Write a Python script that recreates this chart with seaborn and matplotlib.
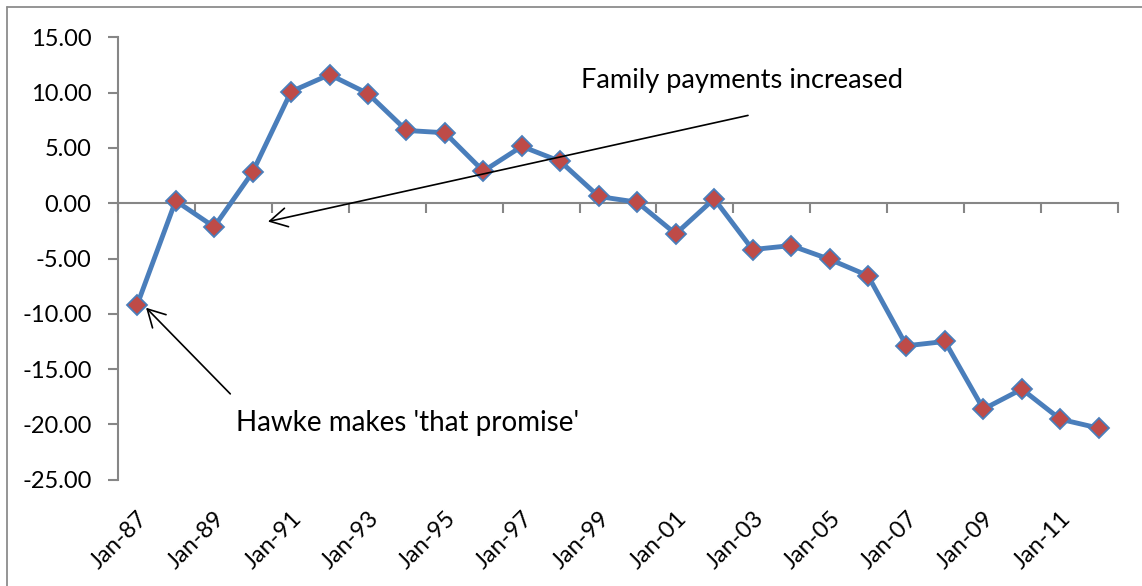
import matplotlib
matplotlib.use("Agg")
import matplotlib.pyplot as plt
from matplotlib.lines import Line2D
import seaborn as sns
import numpy as np
import pandas as pd

# Annual series, January of each year 1987-2012
periods = ["Jan-87", "Jan-88", "Jan-89", "Jan-90", "Jan-91", "Jan-92", "Jan-93",
           "Jan-94", "Jan-95", "Jan-96", "Jan-97", "Jan-98", "Jan-99", "Jan-00",
           "Jan-01", "Jan-02", "Jan-03", "Jan-04", "Jan-05", "Jan-06", "Jan-07",
           "Jan-08", "Jan-09", "Jan-10", "Jan-11", "Jan-12"]
values = [-9.18, 0.22, -2.14, 2.81, 10.09, 11.63, 9.91, 6.58, 6.37, 2.90,
          5.14, 3.78, 0.61, 0.09, -2.77, 0.40, -4.19, -3.83, -5.07, -6.55,
          -12.89, -12.50, -18.62, -16.81, -19.53, -20.34]
y_ticks = [15, 10, 5, 0, -5, -10, -15, -20, -25]

df = pd.DataFrame({"pos": np.arange(len(periods)), "value": values})

sns.set_theme(style="ticks")
plt.rcParams["font.family"] = ["Lato", "DejaVu Sans"]
plt.rcParams["xtick.bottom"] = True
plt.rcParams["ytick.left"] = True

LINE = "#4a7ebb"
MARK = "#be4b48"
AXIS = "#868686"

fig = plt.figure(figsize=(11.42, 5.86), dpi=100)
ax = fig.add_axes([0.1033, 0.1814, 0.979 - 0.1033, 0.9363 - 0.1814])

sns.lineplot(data=df, x="pos", y="value", ax=ax, color=LINE, linewidth=3.5,
             marker="D", markersize=10, markerfacecolor=MARK,
             markeredgecolor=LINE, markeredgewidth=1.3, zorder=3)

ax.set_xlim(-0.5, len(periods) - 0.5)
ax.set_ylim(-25, 15)
ax.set_xlabel("")
ax.set_ylabel("")

# y axis
ax.set_yticks(y_ticks)
ax.set_yticklabels([f"{v:.2f}" for v in y_ticks])
ax.tick_params(axis="y", which="major", left=True, length=7, width=1.5,
               color=AXIS, pad=12, labelsize=17, labelcolor="black",
               direction="out")
for s in ["top", "right"]:
    ax.spines[s].set_visible(False)
ax.spines["left"].set_color(AXIS)
ax.spines["left"].set_linewidth(1.5)

# horizontal axis crosses at zero, tick marks between every second category
ax.spines["bottom"].set_position(("data", 0))
ax.spines["bottom"].set_color(AXIS)
ax.spines["bottom"].set_linewidth(1.5)
ax.set_xticks(np.arange(-0.5, len(periods), 2))
ax.set_xticklabels([])
ax.tick_params(axis="x", which="major", bottom=True, length=7, width=1.5,
               color=AXIS, direction="out")

# category labels every second year along the bottom edge
lab = ax.secondary_xaxis("bottom")
lab.set_xticks(np.arange(0, len(periods), 2))
lab.set_xticklabels(periods[::2], rotation=45, ha="right",
                    rotation_mode="anchor")
lab.tick_params(axis="x", length=0, pad=20, labelsize=17, labelcolor="black")
for s in lab.spines.values():
    s.set_visible(False)

arrow = dict(arrowstyle="->,head_length=0.62,head_width=0.34",
             color="black", lw=1.2, mutation_scale=20, shrinkA=0, shrinkB=0)

ax.annotate("", xy=(3.40, -1.66), xytext=(15.88, 7.94), arrowprops=arrow,
            zorder=4)
ax.text(15.73, 11.11, "Family payments increased", ha="center",
        va="center", fontsize=19.6, color="black")

ax.annotate("", xy=(0.23, -9.45), xytext=(2.42, -17.24), arrowprops=arrow,
            zorder=4)
ax.text(7.04, -19.86, "Hawke makes 'that promise'", ha="center",
        va="center", fontsize=20, color="black")

# chart area frame (left and top edges)
frame_x = 6.5 / 1142
frame_y = 1 - 7 / 586
fig.add_artist(Line2D([frame_x, frame_x], [0, frame_y], transform=fig.transFigure,
                      color="#8c8c8c", linewidth=1.3))
fig.add_artist(Line2D([frame_x, 1], [frame_y, frame_y], transform=fig.transFigure,
                      color="#8c8c8c", linewidth=1.3))

fig.savefig("out.png", dpi=100)
